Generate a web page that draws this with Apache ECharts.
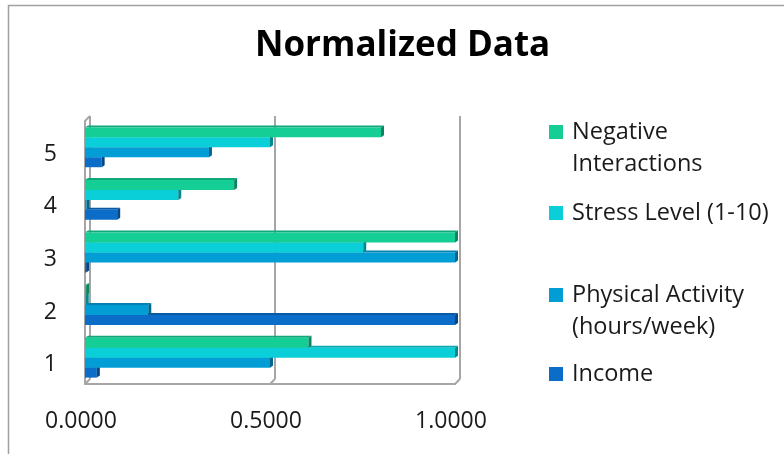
<!DOCTYPE html>
<html>
<head>
<meta charset="utf-8">
<script src="https://cdn.jsdelivr.net/npm/echarts@6/dist/echarts.min.js"></script>
<style>
  html, body { margin: 0; padding: 0; background: #ffffff; }
  #chart { width: 784px; height: 454px; }
</style>
</head>
<body>
<div id="chart"></div>
<script>
// Row labels (bottom to top) and the normalized values per series
const categories = ['1', '2', '3', '4', '5'];
const negativeInteractions = [0.604, 0.003, 1.0, 0.403, 0.80];
const stressLevel = [1.0, 0.002, 0.752, 0.252, 0.50];
const physicalActivity = [0.50, 0.171, 1.0, 0.004, 0.335];
const income = [0.032, 1.0, 0.003, 0.087, 0.045];
const xTicks = [0, 0.5, 1.0];
const seriesNames = ['Negative Interactions', 'Stress Level (1-10)', 'Physical Activity (hours/week)', 'Income'];
const legendLabels = ['Negative\nInteractions', 'Stress Level (1-10)', 'Physical Activity\n(hours/week)', 'Income'];

const FONT = '"Open Sans", Lato, sans-serif';
const GRID = { left: 85, top: 121, width: 370, height: 263 };
const DEPTH = 5;         // wall depth of the 3D box
const BAR_DEPTH = 3;     // depth of each bar's top/side faces
const LABEL_DX = -4;     // labels sit slightly left of / below the front plane
const LABEL_DY = 7;

// front / top / side face colours, one set per series (top row of a group first)
const palettes = [
  { front: '#14CE96', top: '#0FA87A', side: '#0A8560' },
  { front: '#0BCFD8', top: '#09A9B1', side: '#06878E' },
  { front: '#039DD6', top: '#0381B0', side: '#02678C' },
  { front: '#0B6DC8', top: '#0959A4', side: '#074683' }
];
const valueSets = [negativeInteractions, stressLevel, physicalActivity, income];

function toData(values) {
  return values.map((v, i) => [v, i]);
}

function makeRender(slot, pal) {
  return function (params, api) {
    const value = api.value(0);
    const cat = api.value(1);
    const base = api.coord([0, cat]);
    const end = api.coord([value, cat]);
    const band = api.size([0, 1])[1];
    const barH = band * 0.757 / 4;
    const y0 = base[1] - barH * 2 + slot * barH;
    const y1 = y0 + barH;
    const x0 = base[0];
    const x1 = end[0];
    const d = BAR_DEPTH;
    return {
      type: 'group',
      children: [
        { type: 'polygon', shape: { points: [[x0, y0], [x0 + d, y0 - d + 1], [x1 + d, y0 - d + 1], [x1, y0]] }, style: { fill: pal.top } },
        { type: 'rect', shape: { x: x0, y: y0, width: Math.max(x1 - x0, 0), height: barH }, style: { fill: pal.front } },
        { type: 'polygon', shape: { points: [[x1, y0], [x1 + d, y0 - d + 1], [x1 + d, y1 - d + 1], [x1, y1]] }, style: { fill: pal.side } }
      ]
    };
  };
}

// lower rows are drawn first so upper rows cover their top faces
const series = [];
for (let k = 3; k >= 0; k--) {
  series.push({
    type: 'custom',
    name: seriesNames[k],
    xAxisIndex: 0,
    yAxisIndex: 0,
    coordinateSystem: 'cartesian2d',
    itemStyle: { color: palettes[k].front },
    encode: { x: 0, y: 1 },
    data: toData(valueSets[k]),
    renderItem: makeRender(k, palettes[k]),
    z: 3
  });
}

// one legend block per entry; two-line entries keep the square beside their first line
const legendIconY = [132, 213, 295, 374];
const LH = 32.5;
const legends = seriesNames.map((name, k) => {
  const twoLine = legendLabels[k].indexOf('\n') >= 0;
  return {
    data: [{ name: name, icon: 'rect' }],
    left: 549,
    top: twoLine ? legendIconY[k] - LH * 1.5 : legendIconY[k] - LH / 2,
    padding: 0,
    itemWidth: 14,
    itemHeight: 14,
    selectedMode: false,
    formatter: () => (twoLine ? '\n' : '') + legendLabels[k],
    textStyle: {
      fontFamily: FONT,
      fontSize: 23.5,
      color: '#1a1a1a',
      lineHeight: LH,
      padding: [0, 0, 0, 4]
    }
  };
});

const gridLineColor = '#a6a6a6';
const labelColor = '#1a1a1a';

const chart = echarts.init(document.getElementById('chart'), null, { renderer: 'canvas' });
chart.setOption({
  backgroundColor: '#ffffff',
  animation: false,
  title: {
    text: 'Normalized Data',
    left: 255,
    top: 29,
    padding: 0,
    textStyle: { fontFamily: FONT, fontSize: 35, fontWeight: 'bold', color: '#000000' }
  },
  legend: legends,
  grid: [
    { left: GRID.left, top: GRID.top, width: GRID.width, height: GRID.height },
    { left: GRID.left + DEPTH, top: GRID.top - DEPTH, width: GRID.width, height: GRID.height },
    { left: GRID.left + LABEL_DX, top: GRID.top + LABEL_DY, width: GRID.width, height: GRID.height }
  ],
  xAxis: [
    {
      type: 'value', gridIndex: 0, min: 0, max: 1, interval: 0.5,
      axisLine: { show: true, lineStyle: { color: gridLineColor, width: 2 } },
      axisTick: { show: false }, axisLabel: { show: false },
      splitLine: { show: false }
    },
    {
      type: 'value', gridIndex: 1, min: 0, max: 1, interval: 0.5,
      axisLine: { show: false }, axisTick: { show: false }, axisLabel: { show: false },
      splitLine: { show: true, lineStyle: { color: gridLineColor, width: 2 } }
    },
    {
      type: 'value', gridIndex: 2, min: xTicks[0], max: xTicks[xTicks.length - 1], interval: xTicks[1] - xTicks[0],
      axisLine: { show: false }, axisTick: { show: false }, splitLine: { show: false },
      axisLabel: {
        fontFamily: FONT, fontSize: 23, color: labelColor, margin: 19,
        formatter: v => v.toFixed(4)
      }
    }
  ],
  yAxis: [
    {
      type: 'category', gridIndex: 0, data: categories,
      axisLine: { show: true, lineStyle: { color: gridLineColor, width: 2 } },
      axisTick: { show: false }, axisLabel: { show: false }
    },
    { type: 'category', gridIndex: 1, data: categories, show: false },
    {
      type: 'category', gridIndex: 2, data: categories,
      axisLine: { show: false }, axisTick: { show: false },
      axisLabel: { fontFamily: FONT, fontSize: 23, color: labelColor, margin: 24 }
    }
  ],
  series: series
});

// Floor and wall edges joining the front axes to the back wall
function drawBoxEdges() {
  const yBottom = chart.convertToPixel({ yAxisIndex: 0 }, 0) + GRID.height / categories.length / 2;
  const lines = xTicks.map(t => {
    const x = chart.convertToPixel({ xAxisIndex: 0 }, t);
    return {
      type: 'line',
      shape: { x1: x, y1: yBottom, x2: x + DEPTH, y2: yBottom - DEPTH },
      style: { stroke: gridLineColor, lineWidth: 2 },
      z: 1
    };
  });
  const x0 = chart.convertToPixel({ xAxisIndex: 0 }, 0);
  const yTop = yBottom - GRID.height;
  lines.push({
    type: 'line',
    shape: { x1: x0, y1: yTop, x2: x0 + DEPTH, y2: yTop - DEPTH },
    style: { stroke: gridLineColor, lineWidth: 2 },
    z: 1
  });
  // outer chart frame
  lines.push({
    type: 'rect',
    shape: { x: 8.5, y: 5.5, width: 900, height: 600 },
    style: { fill: null, stroke: '#a0a0a0', lineWidth: 1.5 },
    z: 0
  });
  chart.setOption({ graphic: lines });
}
drawBoxEdges();
</script>
</body>
</html>
